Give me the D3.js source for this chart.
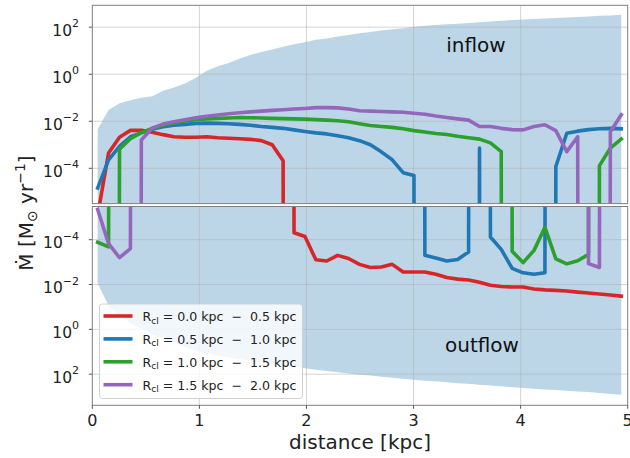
<!DOCTYPE html>
<html>
<head>
<meta charset="utf-8">
<script src="https://cdn.jsdelivr.net/npm/d3@7"></script>
<style>
  html, body { margin: 0; padding: 0; background: #fff; }
  svg { display: block; font-family: "DejaVu Sans", sans-serif; }
  text { white-space: pre; }
</style>
</head>
<body>
<svg id="chart" width="630" height="458"></svg>
<script>
// ---------------- data ----------------
const distance = [0.050,0.152,0.254,0.356,0.458,0.559,0.661,0.763,0.865,0.967,
  1.069,1.171,1.273,1.374,1.476,1.578,1.680,1.782,1.884,1.986,
  2.088,2.189,2.291,2.393,2.495,2.597,2.699,2.801,2.903,3.004,
  3.106,3.208,3.310,3.412,3.514,3.616,3.718,3.819,3.921,4.023,
  4.125,4.227,4.329,4.431,4.533,4.634,4.736,4.838,4.940];

// signed mass flow rate: positive = inflow, negative = outflow  [Msun/yr]
const mdotR00_05 = [1.0e-6,4.5e-4,2.1e-3,4.1e-3,4.1e-3,3.4e-3,2.7e-3,2.2e-3,2.1e-3,2.1e-3,
  2.2e-3,2.0e-3,1.9e-3,1.8e-3,1.7e-3,1.5e-3,1.0e-3,2.1e-4,-4.9e-5,-7.2e-5,
  -7.9e-4,-8.9e-4,-5.0e-4,-6.9e-4,-1.26e-3,-1.74e-3,-1.66e-3,-1.26e-3,-2.75e-3,-2.75e-3,
  -2.75e-3,-3.47e-3,-4.9e-3,-5.75e-3,-6.3e-3,-7.9e-3,-1.07e-2,-1.23e-2,-1.29e-2,-1.29e-2,
  -1.58e-2,-1.74e-2,-1.82e-2,-1.95e-2,-2.19e-2,-2.4e-2,-2.63e-2,-2.95e-2,-3.31e-2];

const mdotR05_10 = [1.45e-5,2.3e-4,8.5e-4,2.2e-3,3.2e-3,4.6e-3,5.8e-3,6.8e-3,7.4e-3,8.1e-3,
  8.3e-3,8.1e-3,7.8e-3,7.4e-3,6.8e-3,6.0e-3,5.5e-3,5.0e-3,4.3e-3,3.7e-3,
  3.2e-3,2.9e-3,2.4e-3,2.0e-3,1.5e-3,1.0e-3,5.0e-4,2.3e-4,6.5e-5,4.9e-5,
  -5.0e-4,-6.5e-4,-8.9e-4,-7.6e-4,-3.5e-4,7.2e-4,-7.6e-5,-2.7e-4,-1.9e-3,-3.0e-3,
  -3.5e-3,-3.0e-3,1.2e-4,3.1e-3,3.8e-3,4.4e-3,4.8e-3,5.0e-3,4.8e-3];

const mdotR10_15 = [-1.3e-4,-2.1e-4,6.5e-4,1.8e-3,3.3e-3,5.0e-3,6.8e-3,8.5e-3,1.02e-2,1.15e-2,
  1.26e-2,1.32e-2,1.38e-2,1.45e-2,1.41e-2,1.38e-2,1.32e-2,1.29e-2,1.26e-2,1.23e-2,
  1.17e-2,1.12e-2,1.05e-2,9.5e-3,7.9e-3,6.6e-3,6.0e-3,5.5e-3,4.8e-3,4.0e-3,
  3.5e-3,3.0e-3,2.75e-3,2.3e-3,2.0e-3,1.74e-3,1.2e-3,5.1e-4,-3.3e-4,-1.05e-3,
  -3.0e-4,-2.8e-5,-7.2e-4,-1.2e-3,-8.7e-4,-4.5e-4,1.3e-4,7.2e-4,1.74e-3];

const mdotR15_20 = [-4.5e-6,-1.5e-4,-6.3e-4,-2.5e-4,1.6e-3,5.1e-3,7.6e-3,9.5e-3,1.17e-2,1.41e-2,
  1.62e-2,1.86e-2,2.1e-2,2.3e-2,2.5e-2,2.7e-2,2.9e-2,3.1e-2,3.3e-2,3.5e-2,
  3.8e-2,3.8e-2,3.7e-2,3.3e-2,2.8e-2,2.7e-2,2.6e-2,2.5e-2,2.4e-2,2.2e-2,
  2.0e-2,1.66e-2,1.45e-2,1.26e-2,1.12e-2,6.0e-3,6.0e-3,5.0e-3,4.4e-3,4.3e-3,
  6.0e-3,7.1e-3,4.0e-3,5.1e-4,2.2e-3,-1.17e-3,-1.74e-3,3.6e-3,1.9e-2];

// envelope of all clouds (shaded band)
const inflowEnvelope = [4.6e-3,3.0e-2,5.8e-2,7.9e-2,0.10,0.115,0.20,0.27,0.40,0.71,
  1.41,2.2,3.0,4.5,6.6,8.9,11.2,14.8,18.6,23,
  29,33,40,47,55,63,72,81,91,105,
  115,123,132,141,151,162,174,186,200,214,
  224,234,245,257,269,282,302,316,339];
const outflowEnvelope = [8.9e-3,8.9e-2,0.25,0.52,0.98,1.66,2.6,4.1,6.0,8.9,
  12,14.8,17.8,21,26,30,35,41,47,54,
  63,72,83,93,105,115,129,145,162,178,
  195,209,229,251,269,295,324,347,380,417,
  447,479,513,550,589,631,692,759,832];

const series = [mdotR00_05, mdotR05_10, mdotR10_15, mdotR15_20];
const rclLow  = ["0.0", "0.5", "1.0", "1.5"];
const rclHigh = ["0.5", "1.0", "1.5", "2.0"];
const seriesColors = ["#d62728", "#1f77b4", "#2ca02c", "#9467bd"];

const xTicks = [0, 1, 2, 3, 4, 5];
const xDomain = [0, 5];
const yTickExponents = [-4, -2, 0, 2];
const yDomainInflow = [3.16e-6, 850];
const yDomainOutflow = [3.3e-6, 2450];

// ---------------- layout ----------------
const svg = d3.select("#chart");
const L = 92.3, R = 627.7;
const top1 = 5.3, bot1 = 203.6;
const top2 = 206.5, bot2 = 405.3;
const fillColor = "#bcd6e8";
const TINY = 1e-300;

const x = d3.scaleLinear().domain(xDomain).range([L, R]);
const yIn = d3.scaleLog().domain(yDomainInflow).range([bot1, top1]);
const yOut = d3.scaleLog().domain(yDomainOutflow).range([top2, bot2]);

const defs = svg.append("defs");
defs.append("clipPath").attr("id", "clipIn").append("rect")
  .attr("x", L).attr("y", top1).attr("width", R - L).attr("height", bot1 - top1);
defs.append("clipPath").attr("id", "clipOut").append("rect")
  .attr("x", L).attr("y", top2).attr("width", R - L).attr("height", bot2 - top2);

function panel(y, env, sign, clipId, y0pix) {
  const g = svg.append("g");
  const c = g.append("g").attr("clip-path", `url(#${clipId})`);
  // shaded band
  c.append("path")
    .datum(env)
    .attr("fill", fillColor)
    .attr("d", d3.area()
      .x((d, i) => x(distance[i]))
      .y0(y0pix)
      .y1(d => y(d)));
  // grid
  const [ya, yb] = y.range();
  c.selectAll(".gx").data(xTicks).enter().append("line")
    .attr("x1", d => x(d)).attr("x2", d => x(d))
    .attr("y1", Math.min(ya, yb)).attr("y2", Math.max(ya, yb))
    .attr("stroke", "#b0b0b0").attr("stroke-opacity", 0.55).attr("stroke-width", 1);
  c.selectAll(".gy").data(yTickExponents).enter().append("line")
    .attr("x1", L).attr("x2", R)
    .attr("y1", d => y(Math.pow(10, d))).attr("y2", d => y(Math.pow(10, d)))
    .attr("stroke", "#b0b0b0").attr("stroke-opacity", 0.55).attr("stroke-width", 1);
  // lines
  series.forEach((s, k) => {
    c.append("path")
      .datum(s)
      .attr("fill", "none")
      .attr("stroke", seriesColors[k])
      .attr("stroke-width", 3.6)
      .attr("stroke-linejoin", "round")
      .attr("stroke-linecap", "square")
      .attr("d", d3.line()
        .x((d, i) => x(distance[i]))
        .y(d => { const v = sign * d; return y(v > 0 ? v : TINY); }));
  });
  // y ticks + labels
  yTickExponents.forEach(e => {
    const yy = y(Math.pow(10, e));
    g.append("line").attr("x1", L - 3.5).attr("x2", L).attr("y1", yy).attr("y2", yy)
      .attr("stroke", "#444").attr("stroke-width", 0.9);
    const t = g.append("text").attr("x", 79).attr("y", yy + 8.5)
      .attr("text-anchor", "end").attr("font-size", 15.5).attr("fill", "#222");
    t.append("tspan").text("10");
    t.append("tspan").attr("font-size", 11).attr("dy", -8.5)
      .text(e < 0 ? "\u2212" + Math.abs(e) : String(e));
  });
  // frame
  g.append("rect")
    .attr("x", L).attr("y", Math.min(ya, yb))
    .attr("width", R - L).attr("height", Math.abs(yb - ya))
    .attr("fill", "none").attr("stroke", "#808080").attr("stroke-width", 1);
  return g;
}

panel(yIn, inflowEnvelope, 1, "clipIn", bot1 + 2);
panel(yOut, outflowEnvelope, -1, "clipOut", top2 - 2);

// x ticks of the lower panel
xTicks.forEach(t => {
  svg.append("line").attr("x1", x(t)).attr("x2", x(t)).attr("y1", bot2).attr("y2", bot2 + 3.5)
    .attr("stroke", "#444").attr("stroke-width", 0.9);
  svg.append("text").attr("x", x(t)).attr("y", 425.5).attr("text-anchor", "middle")
    .attr("font-size", 16).attr("fill", "#222").text(String(t));
});

// axis labels
svg.append("text").attr("x", (L + R) / 2).attr("y", 448.5).attr("text-anchor", "middle")
  .attr("font-size", 20).attr("fill", "#222").text("distance [kpc]");

const yl = svg.append("text")
  .attr("transform", "translate(33,213) rotate(-90)")
  .attr("text-anchor", "middle").attr("font-size", 20).attr("fill", "#222");
yl.append("tspan").text("\u1E40 [M");
yl.append("tspan").attr("font-size", 14).attr("dy", 4).text("\u2299");
yl.append("tspan").attr("dy", -4).text(" yr");
yl.append("tspan").attr("font-size", 14).attr("dy", -8).text("\u22121");
yl.append("tspan").attr("dy", 8).text("]");

// panel annotations
svg.append("text").attr("x", 476).attr("y", 51.7).attr("text-anchor", "middle")
  .attr("font-size", 20).attr("fill", "#111").text("inflow");
svg.append("text").attr("x", 482).attr("y", 351.7).attr("text-anchor", "middle")
  .attr("font-size", 20).attr("fill", "#111").text("outflow");

// legend
const lg = svg.append("g");
lg.append("rect").attr("x", 99.5).attr("y", 304).attr("width", 203).attr("height", 94.5)
  .attr("rx", 3).attr("fill", "#fff").attr("fill-opacity", 0.8)
  .attr("stroke", "#d0d0d0").attr("stroke-width", 1);
series.forEach((s, k) => {
  const yy = 316 + k * 22.9;
  lg.append("line").attr("x1", 103.5).attr("x2", 132.5).attr("y1", yy).attr("y2", yy)
    .attr("stroke", seriesColors[k]).attr("stroke-width", 3.6);
  const t = lg.append("text").attr("x", 142.5).attr("y", yy + 5)
    .attr("font-size", 12.6).attr("fill", "#222");
  t.append("tspan").text("R");
  t.append("tspan").attr("font-size", 9).attr("dy", 2.5).text("cl");
  t.append("tspan").attr("dy", -2.5).text(" = " + rclLow[k] + " kpc  \u2212  " + rclHigh[k] + " kpc");
});
</script>
</body>
</html>
